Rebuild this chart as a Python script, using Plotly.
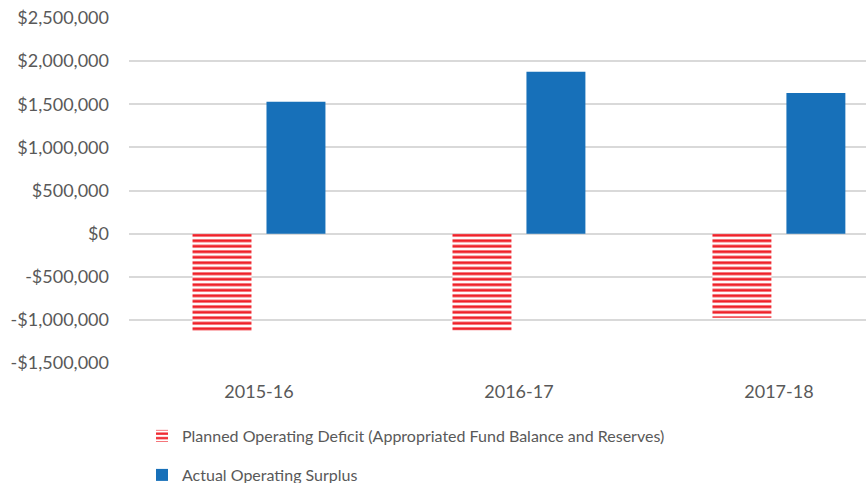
import plotly.graph_objects as go

categories = ["2015-16", "2016-17", "2017-18"]
planned_deficit = [-1130000, -1122000, -975000]
actual_surplus = [1530000, 1878000, 1630000]
y_tick_vals = [-1500000, -1000000, -500000, 0, 500000, 1000000, 1500000, 2000000, 2500000]
y_tick_text = ["-$1,500,000", "-$1,000,000", "-$500,000", "$0", "$500,000",
               "$1,000,000", "$1,500,000", "$2,000,000", "$2,500,000"]

FONT = "Lato"
GRAY = "#595959"
RED = "#EF2129"
BLUE = "#1770B9"

fig = go.Figure()
fig.add_trace(go.Bar(
    x=categories, y=planned_deficit,
    name="Planned Operating Deficit (Appropriated Fund Balance and Reserves)",
    marker=dict(color="white", line=dict(width=0),
                pattern=dict(shape="-", fgcolor=RED, bgcolor="white", fgopacity=1,
                             size=5.5, solidity=0.52, fillmode="replace")),
    legend="legend",
))
fig.add_trace(go.Bar(
    x=categories, y=actual_surplus,
    name="Actual Operating Surplus",
    marker=dict(color=BLUE, line=dict(width=0)),
    legend="legend2",
))

fig.update_layout(
    width=866, height=483,
    margin=dict(l=129, r=0, t=18, b=120, autoexpand=False),
    paper_bgcolor="white", plot_bgcolor="white",
    barmode="group", bargap=0.431, bargroupgap=0.203,
    font=dict(family=FONT, size=16, color=GRAY),
    xaxis=dict(range=[-0.5, 2.335], showgrid=False, showline=False,
               ticks="", tickangle=0, automargin=False, ticklabelstandoff=16,
               tickfont=dict(size=18, color=GRAY, family=FONT)),
    yaxis=dict(range=[-1500000, 2500000], tickvals=y_tick_vals, ticktext=y_tick_text,
               showgrid=True, gridcolor="#D9D9D9", gridwidth=1.5,
               zeroline=True, zerolinecolor="#D9D9D9", zerolinewidth=1.5,
               showline=False, ticks="", ticklabelstandoff=19, automargin=False,
               tickfont=dict(size=18, color=GRAY, family=FONT)),
    legend=dict(xref="container", yref="container", x=142/866, y=1 - 419/483,
                xanchor="left", yanchor="top", bgcolor="rgba(0,0,0,0)",
                font=dict(size=16, color=GRAY, family=FONT)),
    legend2=dict(xref="container", yref="container", x=142/866, y=1 - 458/483,
                 xanchor="left", yanchor="top", bgcolor="rgba(0,0,0,0)",
                 font=dict(size=16, color=GRAY, family=FONT)),
    showlegend=True,
)

fig.write_html("out.html")
